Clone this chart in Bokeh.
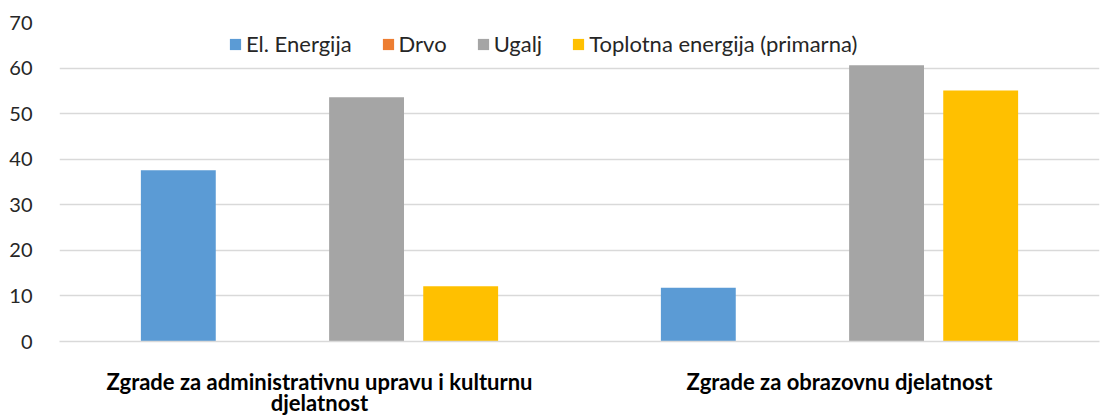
from bokeh.plotting import figure
from bokeh.models import (FactorRange, ColumnDataSource, Legend, LegendItem, SingleIntervalTicker,
                          Range1d, CategoricalAxis)
from bokeh.transform import dodge
from bokeh.embed import file_html
from bokeh.resources import INLINE

categories = ["Zgrade za administrativnu upravu i kulturnu djelatnost", "Zgrade za obrazovnu djelatnost"]
label_line1 = ["Zgrade za administrativnu upravu i kulturnu", "Zgrade za obrazovnu djelatnost"]
label_line2 = ["djelatnost", " "]
series_names = ["El. Energija", "Drvo", "Ugalj", "Toplotna energija (primarna)"]
el_energija = [37.6, 11.8]
drvo = [0, 0]
ugalj = [53.6, 60.6]
toplotna = [12.1, 55.1]
colors = ["#5B9BD5", "#ED7D31", "#A5A5A5", "#FFC000"]

FONT = "Lato"

src = ColumnDataSource(dict(cat=categories, s0=el_energija, s1=drvo, s2=ugalj, s3=toplotna))

p = figure(x_range=FactorRange(*categories, range_padding=0), y_range=Range1d(0, 70),
           frame_width=1040, frame_height=319, x_axis_location=None,
           output_backend="svg", toolbar_location=None,
           min_border_left=59, min_border_right=1, min_border_top=22, min_border_bottom=74)
p.extra_x_ranges = {"l1": FactorRange(*label_line1, range_padding=0),
                    "l2": FactorRange(*label_line2, range_padding=0)}

slot = 0.181
bw = 0.144
renderers = []
for i, (fld, col) in enumerate(zip(["s0", "s1", "s2", "s3"], colors)):
    r = p.vbar(x=dodge("cat", (i - 1.5) * slot, range=p.x_range), top=fld, width=bw,
               source=src, fill_color=col, line_color=None)
    renderers.append(r)

legend = Legend(items=[LegendItem(label=n, renderers=[r]) for n, r in zip(series_names, renderers)],
                orientation="horizontal", location=(169, 284), padding=0, margin=0,
                spacing=29, label_standoff=4, glyph_width=14, glyph_height=14, label_height=25,
                label_text_font=FONT, label_text_font_size="22px", label_text_color="#262626",
                background_fill_alpha=0, border_line_color=None)
p.add_layout(legend)

p.outline_line_color = None
p.xgrid.grid_line_color = None
p.ygrid.grid_line_color = "#D9D9D9"
p.ygrid.grid_line_width = 1.5
p.yaxis.ticker = SingleIntervalTicker(interval=10)
p.yaxis.axis_line_color = None
p.yaxis.major_tick_line_color = None
p.yaxis.minor_tick_line_color = None
p.yaxis.major_label_text_font = FONT
p.yaxis.major_label_text_font_size = "20px"
p.yaxis.major_label_text_color = "#262626"
p.yaxis.major_label_standoff = 21

common = dict(major_tick_line_color=None, minor_tick_line_color=None,
              major_label_text_font=FONT, major_label_text_font_style="bold",
              major_label_text_font_size="22px", major_label_text_color="#000000")
xa1 = CategoricalAxis(x_range_name="l1", axis_line_color="#D9D9D9", axis_line_width=1.5,
                      major_label_standoff=20, **common)
xa2 = CategoricalAxis(x_range_name="l2", axis_line_color=None, major_label_standoff=-15, **common)
p.add_layout(xa1, "below")
p.add_layout(xa2, "below")

p.background_fill_color = "white"

open("out.html", "w").write(file_html(p, INLINE))
